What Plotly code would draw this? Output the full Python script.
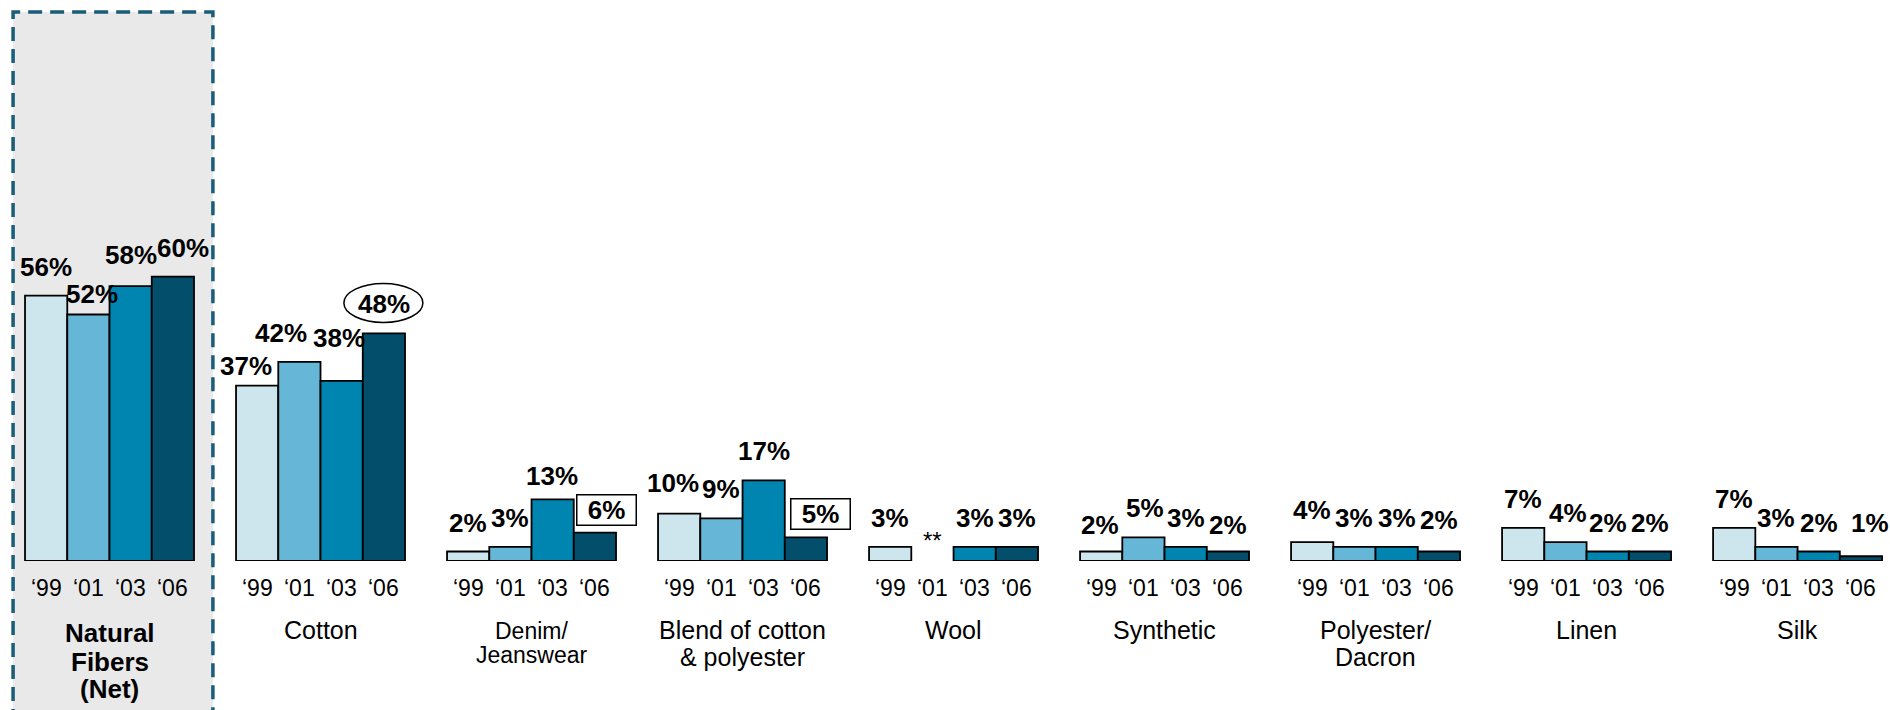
import plotly.graph_objects as go

# Fabric categories (label lines) and survey years
category_lines = [
    ["Natural", "Fibers", "(Net)"],
    ["Cotton"],
    ["Denim/", "Jeanswear"],
    ["Blend of cotton", "& polyester"],
    ["Wool"],
    ["Synthetic"],
    ["Polyester/", "Dacron"],
    ["Linen"],
    ["Silk"],
]
years = ["\u201899", "\u201801", "\u201803", "\u201806"]

# Share of respondents (%) per year; None = base too small (shown as **)
share_99 = [56, 37, 2, 10, 3, 2, 4, 7, 7]
share_01 = [52, 42, 3, 9, None, 5, 3, 4, 3]
share_03 = [58, 38, 13, 17, 3, 3, 3, 2, 2]
share_06 = [60, 48, 6, 5, 3, 2, 2, 2, 1]
series = [share_99, share_01, share_03, share_06]

colors = ["#cde5ed", "#66b7d7", "#0084b0", "#034e6b"]
FONT = "Liberation Sans, Arial, sans-serif"

slot = 0.2002                      # bar width in category units
offsets = [(j - 1.5) * slot for j in range(len(years))]
n_cat = len(category_lines)

fig = go.Figure()
for j, vals in enumerate(series):
    fig.add_trace(go.Bar(
        x=[k + offsets[j] for k in range(n_cat)],
        y=vals,
        width=slot,
        name=years[j],
        marker=dict(color=colors[j], line=dict(color="black", width=1.8)),
        showlegend=False,
    ))

annotations = []
shapes = []

# small hand nudges (px) for value labels that sit off-centre
nudge = {
    (0, 1): (4, -8), (0, 2): (0, 2), (0, 3): (10, 0),
    (1, 0): (-11, -9), (1, 1): (-18, 0), (1, 2): (-3, 14),
    (2, 2): (-1, -6),
    (3, 0): (-6, 2),
    (5, 0): (-1, -2), (5, 1): (2, 0), (5, 3): (0, -2),
    (6, 0): (0, 3), (6, 3): (0, 3),
    (7, 1): (3, 0),
    (8, 3): (9, 4),
}
boxed = {(2, 3): 12, (3, 3): 15}   # label drawn in a box, x shift px
circled = {(1, 3)}                  # label ringed by an ellipse

VALUE_FONT = dict(family=FONT, size=26, color="black", weight="bold")

for k in range(n_cat):
    for j, vals in enumerate(series):
        v = vals[k]
        xpos = k + offsets[j]
        # year tick label
        annotations.append(dict(
            x=xpos, y=0, xref="x", yref="y", text=years[j], showarrow=False,
            yanchor="middle", yshift=-27,
            font=dict(family=FONT, size=23, color="black"),
        ))
        if v is None:
            annotations.append(dict(
                x=xpos, y=0, xref="x", yref="y", text="**", showarrow=False,
                yanchor="bottom", yshift=5,
                font=dict(family=FONT, size=24, color="black"),
            ))
            continue
        if (k, j) in boxed:
            annotations.append(dict(
                x=xpos, y=v, xref="x", yref="y", text=f"{v}%", showarrow=False,
                yanchor="bottom", yshift=7, xshift=boxed[(k, j)],
                width=56, height=27, borderpad=1,
                bordercolor="black", borderwidth=1.5, bgcolor="white",
                font=VALUE_FONT,
            ))
            continue
        dx, dy = nudge.get((k, j), (0, 0))
        annotations.append(dict(
            x=xpos, y=v, xref="x", yref="y", text=f"{v}%", showarrow=False,
            yanchor="bottom", yshift=12 + dy, xshift=dx,
            font=VALUE_FONT,
        ))
        if (k, j) in circled:
            shapes.append(dict(
                type="circle", xref="x", yref="y",
                xsizemode="pixel", ysizemode="pixel",
                xanchor=xpos, yanchor=v,
                x0=-40, x1=39, y0=11, y1=50,
                line=dict(color="black", width=1.5), fillcolor="rgba(0,0,0,0)",
            ))

# category names under the year labels
for k, lines in enumerate(category_lines):
    if k == 0:
        ys = [-72, -101, -128]
        font = dict(family=FONT, size=26, color="black", weight="bold")
    elif k == 2:
        ys = [-70, -94]
        font = dict(family=FONT, size=23, color="black")
    else:
        ys = [-69, -96][:len(lines)]
        font = dict(family=FONT, size=25, color="black")
    for txt, ysh in zip(lines, ys):
        annotations.append(dict(
            x=k, y=0, xref="x", yref="y", text=txt, showarrow=False,
            yanchor="middle", yshift=ysh, font=font,
        ))

# shaded, dashed frame around the net group
shapes.append(dict(
    type="rect", xref="x", yref="paper",
    x0=-0.457, x1=0.49, y0=-0.4, y1=0.9786,
    fillcolor="#e9e9e9", line=dict(color="#1a5d78", width=3.5, dash="14px,8px"),
    layer="below",
))

fig.update_layout(
    width=1890, height=710,
    margin=dict(l=0, r=0, t=0, b=149),
    paper_bgcolor="white", plot_bgcolor="rgba(0,0,0,0)",
    barmode="overlay",
    xaxis=dict(range=[-0.519, 8.438], visible=False),
    yaxis=dict(range=[0, 118.35], visible=False),
    annotations=annotations, shapes=shapes,
)

fig.write_html("out.html")
